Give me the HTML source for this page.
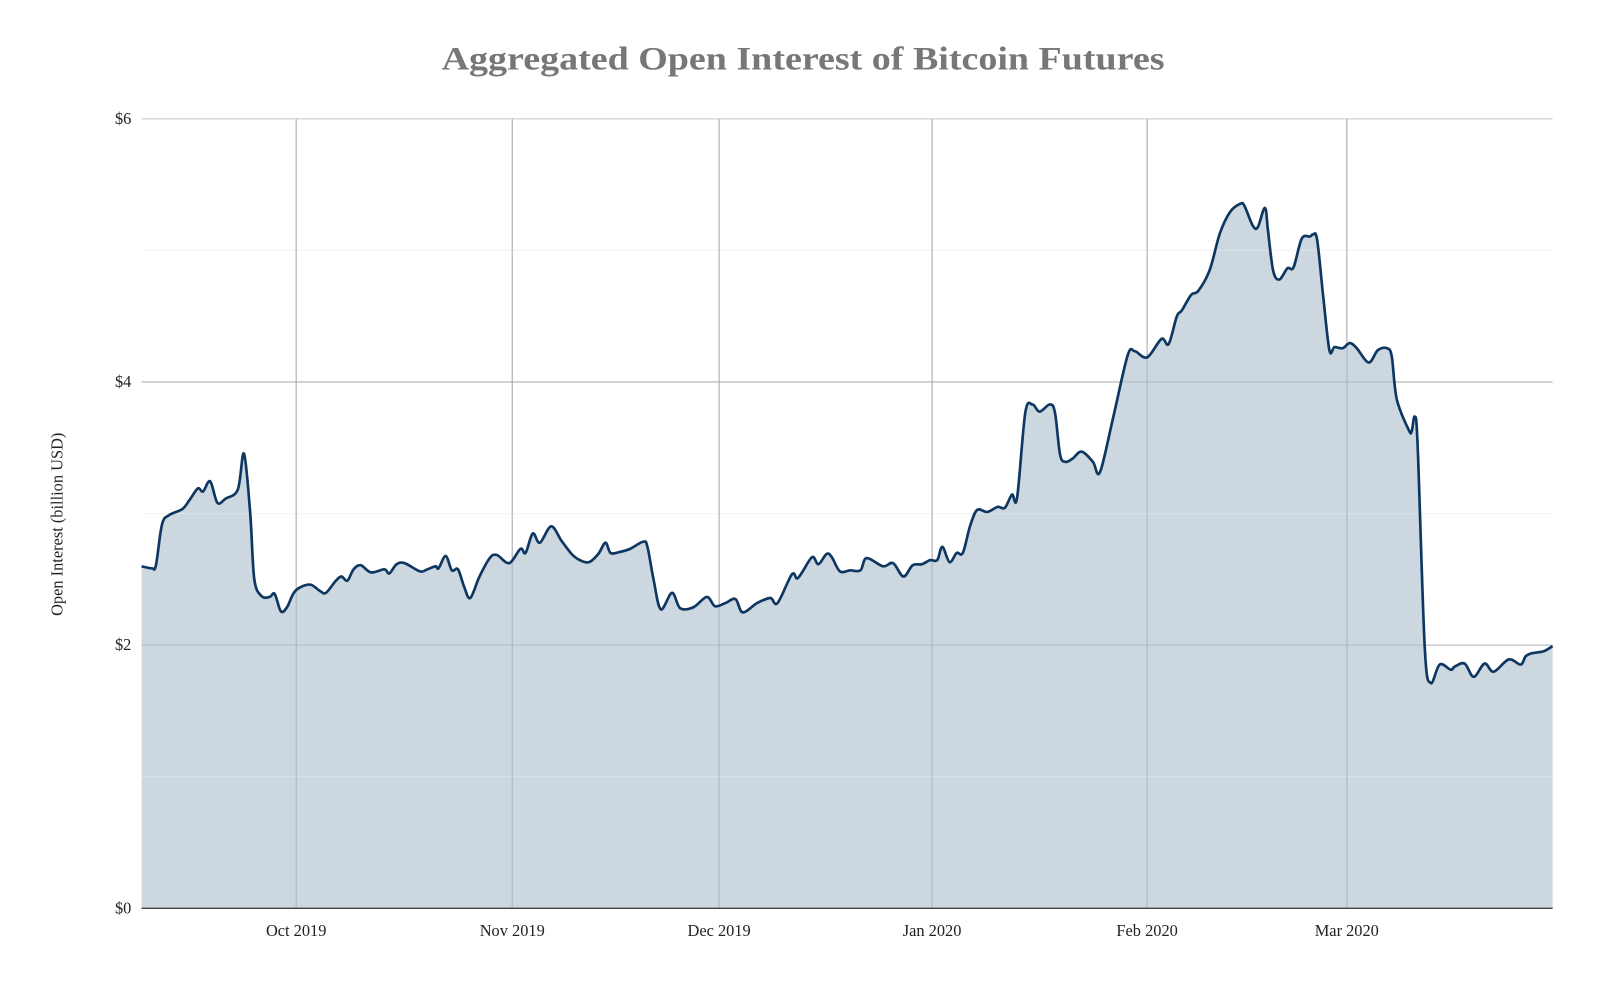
<!DOCTYPE html>
<html><head><meta charset="utf-8"><style>
html,body{margin:0;padding:0;background:#fff;}
svg{display:block;}
text{font-family:"Liberation Serif",serif;fill:#222;}
</style></head><body>
<svg id="s" width="1600" height="982" viewBox="0 0 1562 959" xmlns="http://www.w3.org/2000/svg">
<text x="784" y="68" text-anchor="middle" textLength="706" lengthAdjust="spacingAndGlyphs" style="font-size:32px;font-weight:bold;fill:#777">Aggregated Open Interest of Bitcoin Futures</text>
<g id="hg"></g>
<path id="area" fill="#cdd7e0" stroke="none"/>
<g id="gover"></g>
<path id="line" fill="none" stroke="#0d3761" stroke-width="2.6" stroke-linejoin="round"/>
<line x1="138" x2="1516" y1="887" y2="887" stroke="#444" stroke-width="1.3"/>
<g id="lab"></g>
<text transform="translate(61,512) rotate(-90)" text-anchor="middle" style="font-size:16px">Open Interest (billion USD)</text>
</svg>
<script>
var NS="http://www.w3.org/2000/svg";
function el(t,a,p,txt){var e=document.createElementNS(NS,t);for(var k in a)e.setAttribute(k,a[k]);if(txt!==undefined)e.textContent=txt;document.getElementById(p).appendChild(e);return e;}
var L=138,R=1516,Y=function(v){return 116+(6-v)*128.5;};
for(var v=0;v<=6;v++){
  el("line",{x1:L,x2:R,y1:Y(v),y2:Y(v),stroke:v%2?"#f1f1f1":"#d6d6d6","stroke-width":1.3},"hg");
  if(v%2==0){el("text",{x:128,y:Y(v)+5,"text-anchor":"end",style:"font-size:16px"},"lab","$"+v);}
  if(v>0&&v<6) el("line",{x1:L,x2:R,y1:Y(v),y2:Y(v),stroke:v%2?"rgba(255,255,255,0.25)":"rgba(120,130,140,0.25)","stroke-width":1.3},"gover");
}
var xs=[[289,"Oct 2019"],[500,"Nov 2019"],[702,"Dec 2019"],[910,"Jan 2020"],[1120,"Feb 2020"],[1315,"Mar 2020"]];
xs.forEach(function(d){
  el("line",{x1:d[0],x2:d[0],y1:116,y2:887,stroke:"#d4d4d4","stroke-width":1.3},"hg");
  el("line",{x1:d[0],x2:d[0],y1:116,y2:887,stroke:"rgba(120,130,140,0.3)","stroke-width":1.3},"gover");
  el("text",{x:d[0],y:914,"text-anchor":"middle",style:"font-size:16px"},"lab",d[1]);
});
var P=[[138,553],[148,555],[152,552],[158,512],[165,503],[178,497],[185,488],[193,477],[198,480],[205,470],[212,491],[220,487],[232,478],[238,443],[244,500],[248,565],[255,582],[263,583],[268,580],[274,597],[280,593],[286,580],[292,574],[303,571],[312,577],[318,579],[327,568],[333,563],[339,567],[345,556],[352,552],[362,559],[375,556],[380,560],[387,551],[395,550],[410,558],[417,556],[425,553],[428,555],[435,543],[441,557],[447,556],[453,573],[459,584],[468,563],[478,545],[485,542],[497,550],[508,536],[513,540],[520,521],[527,530],[538,514],[548,528],[558,541],[566,547],[575,549],[584,541],[591,530],[596,540],[605,539],[615,536],[628,529],[632,534],[638,566],[645,595],[656,579],[664,594],[677,593],[690,583],[698,592],[708,589],[718,585],[725,598],[739,589],[752,584],[759,589],[773,561],[778,565],[783,559],[793,544],[799,551],[807,541],[812,544],[820,558],[830,557],[840,557],[846,545],[862,553],[872,550],[882,563],[891,552],[900,551],[908,547],[915,547],[920,534],[927,549],[934,540],[940,540],[947,514],[954,498],[964,500],[974,495],[981,496],[988,483],[993,486],[1001,403],[1008,395],[1015,402],[1025,395],[1030,403],[1035,444],[1040,451],[1047,448],[1056,441],[1067,451],[1074,461],[1087,407],[1101,347],[1108,343],[1120,349],[1134,331],[1141,336],[1149,309],[1154,303],[1163,288],[1170,284],[1181,264],[1191,228],[1201,207],[1211,199],[1215,201],[1223,220],[1228,222],[1235,203],[1238,225],[1243,264],[1249,273],[1257,262],[1263,261],[1271,233],[1279,231],[1282,229],[1286,234],[1292,290],[1298,342],[1303,339],[1311,340],[1318,335],[1325,340],[1337,354],[1346,342],[1355,340],[1360,348],[1365,390],[1377,420],[1380,421],[1383,407],[1386,436],[1393,632],[1399,667],[1408,649],[1419,654],[1423,651],[1433,648],[1442,661],[1453,648],[1462,656],[1477,644],[1489,649],[1494,641],[1500,638],[1512,636],[1521,631]];
P=P.map(function(p){return p[0]>1313?[+(1313+(p[0]-1313)*(203/208)).toFixed(1),p[1]]:p;});
function cr(p){var d="M"+p[0][0]+","+p[0][1];for(var i=0;i<p.length-1;i++){var p0=p[i-1]||p[i],p1=p[i],p2=p[i+1],p3=p[i+2]||p2;var t=0.5/3;
d+=" C"+(p1[0]+(p2[0]-p0[0])*t).toFixed(1)+","+(p1[1]+(p2[1]-p0[1])*t).toFixed(1)+" "+(p2[0]-(p3[0]-p1[0])*t).toFixed(1)+","+(p2[1]-(p3[1]-p1[1])*t).toFixed(1)+" "+p2[0]+","+p2[1];}return d;}
var d=cr(P);
document.getElementById("line").setAttribute("d",d);
document.getElementById("area").setAttribute("d",d+" L1516,887 L138,887 Z");
</script>
</body></html>
